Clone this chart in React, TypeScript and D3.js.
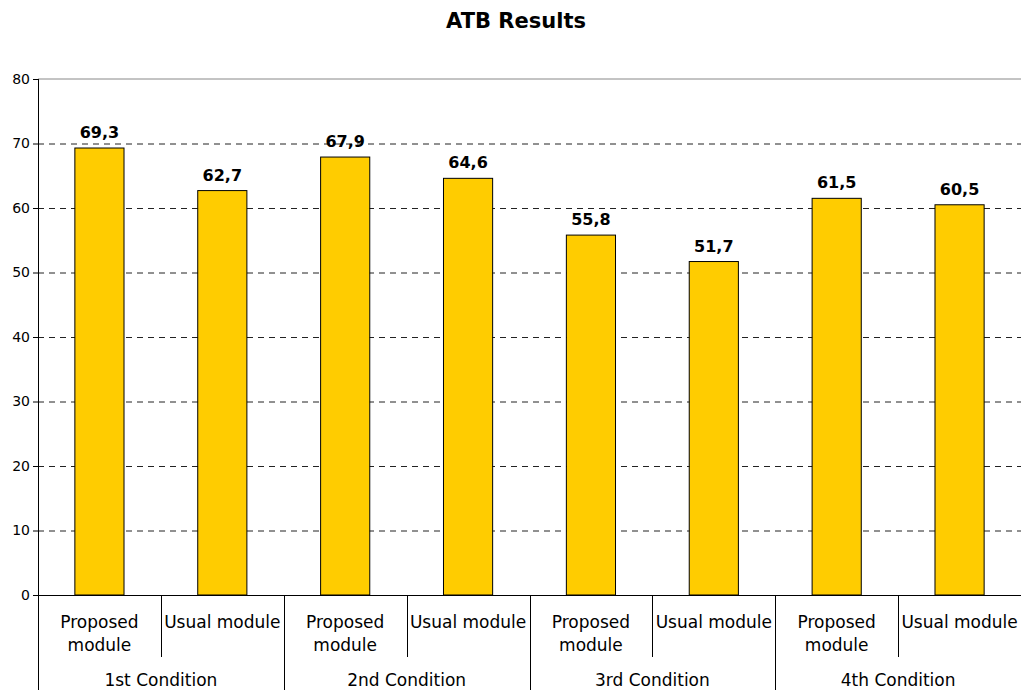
import React from 'react';
import * as d3 from 'd3';

const conditions = ['1st Condition', '2nd Condition', '3rd Condition', '4th Condition'];
const modules = ['Proposed module', 'Usual module'];
const proposedValues = [69.3, 67.9, 55.8, 61.5];
const usualValues = [62.7, 64.6, 51.7, 60.5];
const yTicks = [0, 10, 20, 30, 40, 50, 60, 70, 80];

const width = 1021;
const height = 690;
const margin = { top: 79, right: 0, bottom: 95, left: 38 };
const font = '"DejaVu Sans", Verdana, sans-serif';

const App: React.FC = () => {
  // flatten into bars: one per (condition, module)
  const bars = conditions.flatMap((c, i) => [
    { key: `${c}-p`, cond: c, mod: modules[0], value: proposedValues[i] },
    { key: `${c}-u`, cond: c, mod: modules[1], value: usualValues[i] },
  ]);

  const x = d3
    .scaleBand<string>()
    .domain(bars.map((b) => b.key))
    .range([margin.left, width - margin.right])
    .paddingInner(0.6)
    .paddingOuter(0.3);

  const step = x.step();
  const y = d3.scaleLinear().domain([0, 80]).range([height - margin.bottom, margin.top]);
  const y0 = y(0);

  const slotLeft = (i: number) => margin.left + i * step;

  return (
    <svg
      width={width}
      height={height}
      style={{ position: 'absolute', left: 0, top: 0, background: '#fff' }}
      fontFamily={font}
    >
      <text x={516} y={28} textAnchor="middle" fontSize={21} fontWeight="bold" fill="#000">
        ATB Results
      </text>

      {/* grid lines */}
      {yTicks.map((t) =>
        t === 0 ? null : t === 80 ? (
          <line key={t} x1={margin.left} x2={width} y1={y(t)} y2={y(t)} stroke="#888" strokeWidth={1} />
        ) : (
          <line
            key={t}
            x1={margin.left}
            x2={width}
            y1={y(t) + 0.5}
            y2={y(t) + 0.5}
            stroke="#222"
            strokeWidth={1}
            strokeDasharray="6,5"
          />
        )
      )}

      {/* y axis */}
      <line x1={margin.left + 0.5} x2={margin.left + 0.5} y1={margin.top} y2={height} stroke="#000" />
      {yTicks.map((t) => (
        <g key={`yt${t}`}>
          <line x1={margin.left - 5} x2={margin.left} y1={y(t) + 0.5} y2={y(t) + 0.5} stroke="#000" />
          <text x={margin.left - 8} y={y(t)} dy="0.35em" textAnchor="end" fontSize={14} fill="#000">
            {t}
          </text>
        </g>
      ))}

      {/* bars */}
      {bars.map((b) => (
        <g key={b.key}>
          <rect
            x={x(b.key)}
            y={y(b.value)}
            width={x.bandwidth()}
            height={y0 - y(b.value)}
            fill="#FFCC00"
            stroke="#000"
            strokeWidth={1}
          />
          <text
            x={(x(b.key) ?? 0) + x.bandwidth() / 2}
            y={y(b.value) - 10}
            textAnchor="middle"
            fontSize={16}
            fontWeight="bold"
            fill="#000"
          >
            {b.value.toFixed(1).replace('.', ',')}
          </text>
        </g>
      ))}

      {/* x axis */}
      <line x1={margin.left} x2={width} y1={y0 + 0.5} y2={y0 + 0.5} stroke="#000" />
      {bars.map((b, i) =>
        i === 0 ? null : (
          <line
            key={`sep${i}`}
            x1={Math.round(slotLeft(i)) + 0.5}
            x2={Math.round(slotLeft(i)) + 0.5}
            y1={y0}
            y2={i % 2 === 0 ? height : y0 + 62}
            stroke="#000"
          />
        )
      )}

      {/* module labels */}
      {bars.map((b, i) => {
        const cx = slotLeft(i) + step / 2;
        return b.mod === modules[0] ? (
          <text key={`ml${i}`} textAnchor="middle" fontSize={17} fill="#000">
            <tspan x={cx} y={y0 + 33}>Proposed</tspan>
            <tspan x={cx} y={y0 + 56}>module</tspan>
          </text>
        ) : (
          <text key={`ml${i}`} x={cx} y={y0 + 33} textAnchor="middle" fontSize={17} fill="#000">
            {b.mod}
          </text>
        );
      })}

      {/* condition labels */}
      {conditions.map((c, i) => (
        <text key={c} x={slotLeft(i * 2) + step} y={y0 + 91} textAnchor="middle" fontSize={17} fill="#000">
          {c}
        </text>
      ))}
    </svg>
  );
};

export default App;
